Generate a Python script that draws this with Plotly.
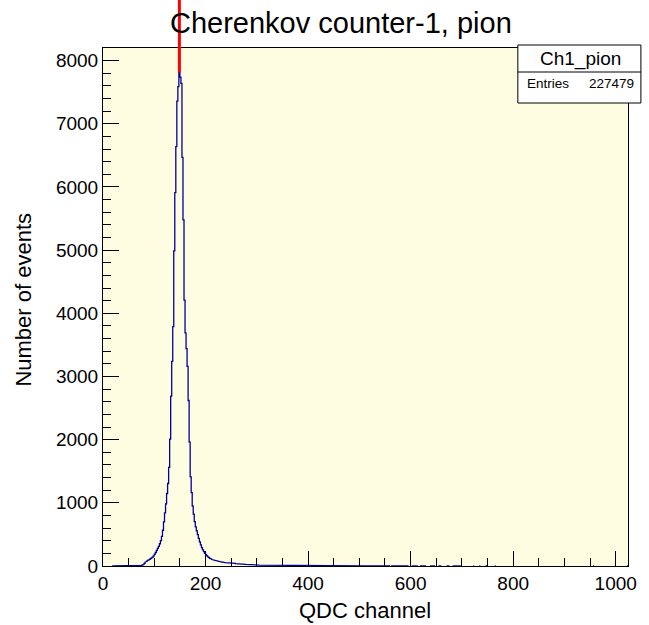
import numpy as np
import plotly.graph_objects as go

# ---------------- data ----------------
bin_width = 2          # QDC channels per drawn bin
x_max = 1024
y_max = 8200

base_start = 18
base_counts = [1, 1, 2, 1, 2, 1, 2, 2, 1, 2, 3, 2, 2, 3, 2, 3, 3, 2, 4, 3, 3]

peak_start = 60
peak_counts = [4, 3, 5, 4, 6, 7, 9, 11, 15, 24,
               40, 62, 74, 86, 95, 104, 116, 128, 142, 160,
               188, 214, 246, 278, 312, 352, 402, 468, 566, 698,
               842, 984, 1148, 1306, 1560, 2010, 2690, 3240, 3790, 4990,
               5910, 6640, 7360, 7590, 7812, 7740, 7640, 6470, 5480, 4210,
               3690, 3440, 3160, 2620, 1960, 1410, 1160, 948, 822, 704,
               618, 556, 498, 436, 382, 334, 292, 256, 228, 202,
               178, 160, 146, 132, 120, 111, 102, 96, 92, 88,
               84, 80, 76, 71, 68, 64, 61, 57, 55, 52,
               50]

tail_start = 242
tail_counts = [48, 47, 46, 44, 43, 42, 41, 40, 39, 38,
               36, 35, 33, 32, 30, 29, 28, 27, 26, 24,
               22, 21, 20, 19, 18, 18, 17, 16, 16, 15,
               15, 14, 14, 13, 13, 13, 12, 12, 12, 11,
               11, 11, 11, 10, 10, 10, 10, 10, 10, 10,
               10, 11, 9, 10, 9, 10, 8, 9, 9, 8,
               9, 8, 8, 9, 7, 8, 8, 7, 7, 8,
               7, 6, 7, 7, 6, 6, 7, 6, 5, 6,
               6, 5, 6, 5, 5, 6, 5, 4, 5, 5,
               4, 5, 4, 4, 5, 4, 4, 3, 4, 4,
               4, 3, 4, 3, 3, 4, 3, 3, 4, 3,
               3, 3, 2, 3, 3, 2, 3, 3, 2, 3,
               2, 3, 2, 2, 3, 2, 2, 2, 3, 2,
               2, 2, 2, 1, 2, 2, 1, 2, 2, 1,
               2, 1, 2, 1, 1, 2, 1, 2, 1, 1,
               2, 1, 1, 2, 1, 1, 1, 2, 1]

sparse_edges = [562, 564, 566, 568, 570, 572, 574, 576, 578, 580, 582, 584, 586, 588,
                590, 592, 594, 602, 604, 606, 608, 610, 612, 618, 620, 622, 624, 626,
                628, 638, 640, 642, 644, 646, 654, 656, 658, 670, 672, 674, 682, 684,
                686, 688, 690, 692, 694, 696, 722, 734, 746, 748, 764, 956, 1022]
sparse_counts = [2, 1, 2, 1, 2, 1, 1, 2, 1, 1, 2, 1, 1, 1,
                 2, 1, 1, 1, 2, 1, 1, 1, 1, 1, 1, 1, 1, 1,
                 1, 1, 1, 1, 1, 1, 1, 1, 1, 1, 1, 1, 1, 1,
                 1, 1, 1, 1, 1, 1, 1, 1, 1, 1, 1, 1, 1]

title_text = "Cherenkov counter-1, pion"
x_title = "QDC channel"
y_title = "Number of events"
stats_name = "Ch1_pion"
stats_entries = "227479"

# ---------------- build histogram ----------------
n_bins = x_max // bin_width
counts = np.zeros(n_bins)
for start, vals in [(base_start, base_counts), (peak_start, peak_counts), (tail_start, tail_counts)]:
    i0 = start // bin_width
    counts[i0:i0 + len(vals)] = vals
for e, c in zip(sparse_edges, sparse_counts):
    counts[e // bin_width] = c
edges = np.arange(n_bins + 1) * bin_width

xs, ys = [], []
prev = False
for i in range(n_bins):
    c = counts[i]
    if c > 0:
        xs += [edges[i], edges[i + 1]]
        ys += [c, c]
        prev = True
    else:
        if prev:
            xs.append(None)
            ys.append(None)
        prev = False

W, H = 649, 625
ml, mr, mt, mb = 103, 17, 48, 59
pw, ph = W - ml - mr, H - mt - mb

def px_x(px):
    return (px - ml) / pw

def px_y(py):
    return (H - mb - py) / ph

FONT = "Liberation Sans, Arial, Helvetica, sans-serif"

fig = go.Figure()
fig.add_trace(go.Scatter(x=xs, y=ys, mode="lines",
                         line=dict(color="#00009c", width=1.3),
                         hoverinfo="skip", showlegend=False))

peak_idx = int(np.argmax(counts))
x_peak = edges[peak_idx] + bin_width / 2

shapes = [
    dict(type="line", xref="x", yref="paper", x0=x_peak, x1=x_peak,
         y0=counts[peak_idx] / y_max, y1=px_y(0), line=dict(color="#ff0000", width=3), layer="above"),
    dict(type="rect", xref="paper", yref="paper", x0=px_x(521), x1=px_x(645),
         y0=px_y(103), y1=px_y(45), fillcolor="white", line=dict(color="black", width=1), layer="above"),
    dict(type="line", xref="paper", yref="paper", x0=px_x(521), x1=px_x(645),
         y0=px_y(72), y1=px_y(72), line=dict(color="black", width=1), layer="above"),
]

annotations = [
    dict(text=title_text, xref="paper", yref="paper", x=px_x(343), y=px_y(23),
         xanchor="center", yanchor="middle", showarrow=False,
         font=dict(family=FONT, size=29, color="black")),
    dict(text=x_title, xref="paper", yref="paper", x=px_x(367), y=px_y(610),
         xanchor="center", yanchor="middle", showarrow=False,
         font=dict(family=FONT, size=22, color="black")),
    dict(text=y_title, xref="paper", yref="paper", x=px_x(22), y=px_y(300),
         xanchor="center", yanchor="middle", showarrow=False, textangle=-90,
         font=dict(family=FONT, size=22, color="black")),
    dict(text=stats_name, xref="paper", yref="paper", x=px_x(584), y=px_y(58.5),
         xanchor="center", yanchor="middle", showarrow=False,
         font=dict(family=FONT, size=19, color="black")),
    dict(text="Entries", xref="paper", yref="paper", x=px_x(528), y=px_y(84),
         xanchor="left", yanchor="middle", showarrow=False,
         font=dict(family=FONT, size=13.5, color="black")),
    dict(text=stats_entries, xref="paper", yref="paper", x=px_x(640), y=px_y(84),
         xanchor="right", yanchor="middle", showarrow=False,
         font=dict(family=FONT, size=13.5, color="black")),
]

fig.update_layout(
    width=W, height=H, autosize=False,
    margin=dict(l=ml, r=mr, t=mt, b=mb, pad=0),
    paper_bgcolor="white", plot_bgcolor="#fffde1",
    font=dict(family=FONT, color="black"),
    shapes=shapes, annotations=annotations, showlegend=False,
)
fig.update_xaxes(range=[0, x_max], tick0=0, dtick=200, ticks="inside", ticklen=15,
                 tickwidth=1, tickcolor="black",
                 minor=dict(dtick=50, ticks="inside", ticklen=8, tickcolor="black", tickwidth=1, showgrid=False),
                 showline=True, linecolor="black", linewidth=1, mirror=True,
                 showgrid=False, zeroline=False, layer="below traces",
                 tickfont=dict(family=FONT, size=19, color="black"))
fig.update_yaxes(range=[0, y_max], tick0=0, dtick=1000, ticks="inside", ticklen=16,
                 tickwidth=1, tickcolor="black",
                 minor=dict(dtick=200, ticks="inside", ticklen=8, tickcolor="black", tickwidth=1, showgrid=False),
                 showline=True, linecolor="black", linewidth=1, mirror=True,
                 showgrid=False, zeroline=False, layer="below traces",
                 tickfont=dict(family=FONT, size=19, color="black"))

fig.write_html("out.html")
